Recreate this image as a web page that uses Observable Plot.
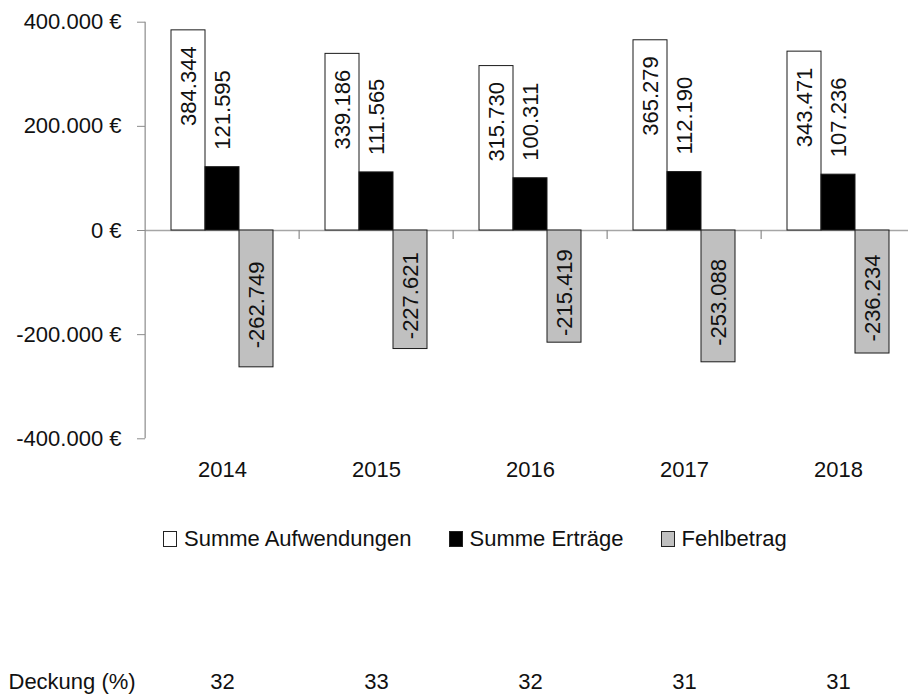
<!DOCTYPE html>
<html><head><meta charset="utf-8">
<script src="https://cdn.jsdelivr.net/npm/d3@7"></script>
<script src="https://cdn.jsdelivr.net/npm/@observablehq/plot@0.6"></script>
<style>
body{margin:0;background:#fff;font-family:"Liberation Sans",Arial,sans-serif;}
#wrap{position:relative;width:908px;height:694px;overflow:hidden;background:#fff}
#chart{position:absolute;left:0;top:0}
#legend{position:absolute;left:163px;top:527px;display:flex;align-items:center;font-size:22px;line-height:24px;color:#111;white-space:nowrap}
.item{display:flex;align-items:center;margin-right:37px}
.sw{width:14px;height:16px;border:1px solid #222;box-sizing:border-box;margin-right:7px}
#deckung{position:absolute;left:0;top:668px}
</style></head><body>
<div id="wrap"><div id="chart"></div><div id="legend"></div><div id="deckung"></div></div>
<script>
const years = ["2014","2015","2016","2017","2018"];
const seriesNames = ["Summe Aufwendungen","Summe Erträge","Fehlbetrag"];
const aufwendungen = [384344,339186,315730,365279,343471];
const ertraege = [121595,111565,100311,112190,107236];
const fehlbetrag = [-262749,-227621,-215419,-253088,-236234];
const deckung = [32,33,32,31,31];
const deckungLabel = "Deckung (%)";
const yTicks = [-400000,-200000,0,200000,400000];
const seriesFill = ["#ffffff","#000000","#c0c0c0"];

const de = d3.formatLocale({decimal:",",thousands:".",grouping:[3],currency:["","\u00a0€"],minus:"-"});
const fmtNum = de.format(",d");
const fmtEuro = d => fmtNum(d) + "\u00a0€";

const rows = [];
years.forEach((y,i)=>{
  rows.push({year:y, series:seriesNames[0], value:aufwendungen[i]});
  rows.push({year:y, series:seriesNames[1], value:ertraege[i]});
  rows.push({year:y, series:seriesNames[2], value:fehlbetrag[i]});
});

const FONT = '"Liberation Sans", Arial, sans-serif';
const W = 908, H = 490, ML = 143, MR = -8.5, MT = 21.7, MB = H - 438.3;
const facetW = (W - MR - ML) / years.length;
const GRAY = "#8c8c8c";
const yMin = yTicks[0], yMax = yTicks[yTicks.length - 1];
const midSeries = () => seriesNames[1];

const chart = Plot.plot({
  width: W, height: H,
  marginLeft: ML, marginRight: MR, marginTop: MT, marginBottom: MB,
  style: {fontFamily: FONT, fontSize: "22px", background: "transparent", color: "#111", overflow: "hidden"},
  fx: {domain: years, padding: 0, label: null},
  x: {domain: seriesNames, paddingInner: 0, paddingOuter: 0.74, axis: null},
  y: {domain: [yMin, yMax], label: null},
  color: {domain: seriesNames, range: seriesFill},
  marks: [
    Plot.ruleY([0], {stroke: "#a6a6a6", strokeWidth: 1.6}),
    Plot.ruleX(years.slice(1), {fx: d => d, x: midSeries, y1: 0, y2: 0, insetBottom: -9, dx: -facetW/2, stroke: GRAY, strokeWidth: 1.2}),
    Plot.ruleX(years.slice(0, 1), {fx: d => d, x: midSeries, y1: yMin, y2: yMax, dx: -facetW/2, stroke: GRAY, strokeWidth: 1.2}),
    Plot.barY(rows, {fx: "year", x: "series", y: "value", fill: "series", stroke: "#1a1a1a", strokeWidth: 1}),
    Plot.text(rows.filter(d => d.series === seriesNames[0]), {fx: "year", x: "series", y: "value", text: d => fmtNum(d.value), rotate: -90, textAnchor: "end", lineAnchor: "middle", dy: 16, fontSize: 22, fill: "#111"}),
    Plot.text(rows.filter(d => d.series === seriesNames[1]), {fx: "year", x: "series", y: "value", text: d => fmtNum(d.value), rotate: -90, textAnchor: "start", lineAnchor: "middle", dy: -17.5, fontSize: 22, fill: "#111"}),
    Plot.text(rows.filter(d => d.series === seriesNames[2]), {fx: "year", x: "series", y: d => d.value / 2, text: d => fmtNum(d.value), rotate: -90, textAnchor: "middle", lineAnchor: "middle", dy: 6, fontSize: 22, fill: "#111"}),
    Plot.axisY({ticks: yTicks, tickFormat: fmtEuro, tickSize: 8, tickPadding: 16, stroke: GRAY, fill: "#111", fontSize: 22, label: null}),
    Plot.axisFx({anchor: "bottom", tickSize: 0, tickPadding: 23, fontSize: 22, fill: "#111", label: null})
  ]
});
document.getElementById("chart").appendChild(chart);

// Legend
const legend = document.getElementById("legend");
seriesNames.forEach((s, i) => {
  const item = document.createElement("div");
  item.className = "item";
  const sw = document.createElement("span");
  sw.className = "sw";
  sw.style.background = seriesFill[i];
  const t = document.createElement("span");
  t.textContent = s;
  item.appendChild(sw); item.appendChild(t);
  legend.appendChild(item);
});

// Deckung row
const deck = Plot.plot({
  width: W, height: 26,
  marginLeft: ML, marginRight: MR, marginTop: 0, marginBottom: 0,
  style: {fontFamily: FONT, fontSize: "22px", background: "transparent", color: "#111", overflow: "hidden"},
  x: {type: "band", domain: years, padding: 0, axis: null},
  marks: [
    Plot.text(years, {x: d => d, text: (d, i) => String(deckung[i]), fontSize: 22, fill: "#111"}),
    Plot.text([deckungLabel], {frameAnchor: "left", textAnchor: "start", dx: -135, text: d => d, fontSize: 22, fill: "#111"})
  ]
});
document.getElementById("deckung").appendChild(deck);
</script>
</body></html>
